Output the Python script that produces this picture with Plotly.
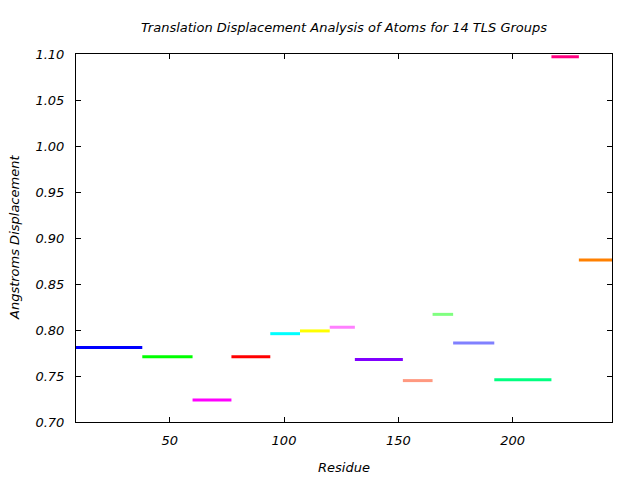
import plotly.graph_objects as go

group_start = [9, 38, 60, 77, 94, 107, 120, 131, 152, 165, 174, 192, 217, 229]
group_end = [38, 60, 77, 94, 107, 120, 131, 152, 165, 174, 192, 217, 229, 244]
displacement = [0.781, 0.771, 0.724, 0.771, 0.796, 0.799, 0.803, 0.768,
                0.745, 0.817, 0.786, 0.746, 1.097, 0.876]
colors = ["#0000ff", "#00ff00", "#ff00ff", "#ff0000", "#00ffff", "#ffff00",
          "#ff80ff", "#8000ff", "#ff9980", "#80ff80", "#8080ff", "#00ff80",
          "#ff0080", "#ff8000"]

x_ticks = [50, 100, 150, 200]
y_ticks = [0.70, 0.75, 0.80, 0.85, 0.90, 0.95, 1.00, 1.05, 1.10]

fig = go.Figure()
for s, e, d, c in zip(group_start, group_end, displacement, colors):
    fig.add_trace(go.Scatter(x=[s, e], y=[d, d], mode="lines",
                             line=dict(color=c, width=3), showlegend=False,
                             hoverinfo="skip"))

font = dict(family="DejaVu Sans", size=13, color="#000000", style="italic")

L, R, T, B = 76, 28, 54, 58
fig.update_layout(
    width=640, height=480,
    margin=dict(l=L, r=R, t=T, b=B, autoexpand=False),
    paper_bgcolor="white", plot_bgcolor="white",
    font=font,
    title=dict(text="Translation Displacement Analysis of Atoms for 14 TLS Groups",
               x=(L + 640 - R) / 2 / 640, xanchor="center", y=1 - 27 / 480,
               yanchor="middle", font=font),
    xaxis=dict(range=[9, 243.5], tickvals=x_ticks, ticktext=[str(v) for v in x_ticks],
               ticks="inside", ticklen=5, tickcolor="black", tickwidth=1,
               showline=True, linecolor="black", linewidth=1, mirror="ticks",
               showgrid=False, zeroline=False, ticklabelstandoff=6,
               automargin=False),
    yaxis=dict(range=[0.70, 1.10], tickvals=y_ticks,
               ticktext=["%.2f" % v for v in y_ticks],
               ticks="inside", ticklen=5, tickcolor="black", tickwidth=1,
               showline=True, linecolor="black", linewidth=1, mirror="ticks",
               showgrid=False, zeroline=False, ticklabelstandoff=8,
               automargin=False),
    annotations=[
        dict(text="Residue", xref="paper", yref="paper",
             x=0.5, y=-(467 - (480 - B)) / (480 - T - B),
             xanchor="center", yanchor="middle", showarrow=False, font=font),
        dict(text="Angstroms Displacement", xref="paper", yref="paper",
             x=-(L - 14) / (640 - L - R), y=0.5, textangle=-90,
             xanchor="center", yanchor="middle", showarrow=False, font=font),
    ],
)

fig.write_html("out.html")
